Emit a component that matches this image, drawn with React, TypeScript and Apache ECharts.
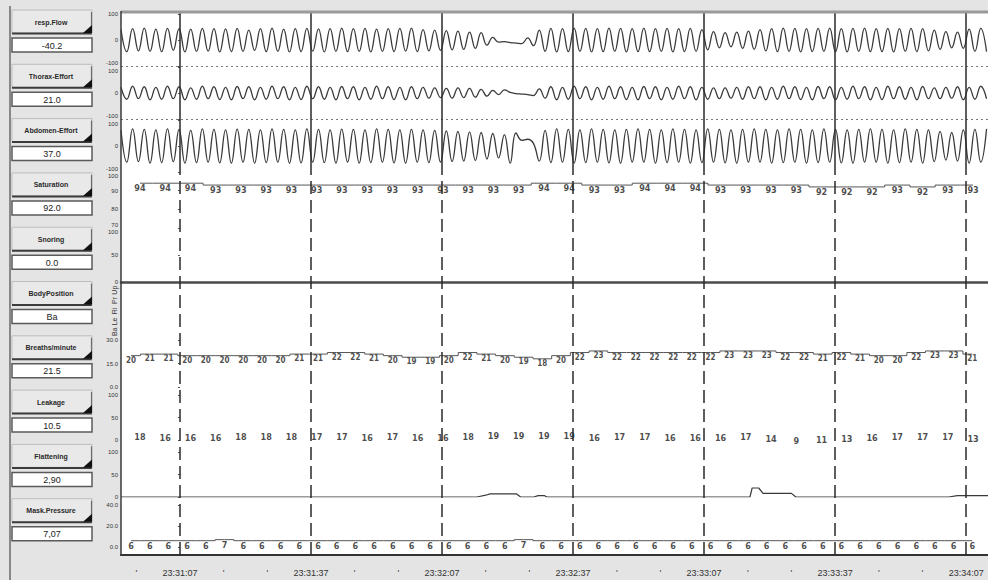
import React, { useEffect, useRef } from "react";
import * as echarts from "echarts";

// ---------- time axis (seconds relative to 23:31:07) ----------
const BASE_SEC = 23 * 3600 + 31 * 60 + 7;
const X_MIN = -13.5;
const X_MAX = 185;
const timeLines = [0, 30, 60, 90, 120, 150, 180];
const timeTicks = [-10, 0, 10, 20, 30, 40, 50, 60, 70, 80, 90, 100, 110, 120, 130, 140, 150, 160, 170, 180];

// ---------- waveforms (alternating extremes, one per half breath) ----------
const waveStart = -13.5;
const waveStep = 1.33;
const flowValues = [
  40, -45, 44, -42, 46, -44, 42, -45, 45, -40,
  44, -46, 42, -44, 45, -43, 44, -46, 43, -45,
  45, -44, 38, -40, 44, -45, 46, -44, 42, -46,
  44, -45, 45, -43, 43, -46, 44, -44, 46, -45,
  44, -44, 45, -46, 42, -44, 44, -45, 45, -43,
  46, -45, 40, -42, 38, -40, 36, -38, 34, -36,
  30, -32, 28, -20, 10, -8, -6, -10, -12, -14,
  8, -22, 38, -44, 45, -46, 44, -45, 46, -44,
  45, -46, 44, -45, 46, -44, 45, -46, 44, -45,
  46, -45, 44, -44, 45, -46, 44, -45, 45, -44,
  40, -38, 32, -30, 28, -26, 30, -32, 34, -36,
  40, -42, 44, -45, 46, -44, 45, -46, 44, -45,
  45, -44, 46, -45, 44, -46, 45, -44, 46, -45,
  44, -45, 45, -46, 44, -44, 45, -45, 44, -42,
  38, -36, 32, -30, 30, -32, 42, -44, 45, -45,
];
const thoraxValues = [
  22, -24, 26, -22, 24, -26, 22, -24, 26, -22,
  24, -26, 20, -24, 26, -22, 24, -25, 22, -26,
  25, -22, 24, -26, 22, -24, 26, -22, 24, -26,
  22, -25, 26, -22, 24, -24, 22, -26, 25, -22,
  24, -26, 22, -24, 26, -22, 24, -25, 22, -26,
  24, -22, 22, -20, 20, -18, 18, -20, 20, -18,
  18, -16, 14, -12, 10, -6, 12, 2, -2, -4,
  -6, -10, 16, -20, 24, -26, 22, -24, 26, -22,
  24, -26, 22, -24, 26, -22, 24, -25, 22, -26,
  25, -22, 24, -26, 22, -24, 26, -22, 24, -26,
  22, -24, 20, -22, 20, -20, 22, -24, 24, -22,
  24, -26, 22, -24, 26, -22, 24, -25, 22, -26,
  25, -22, 24, -26, 22, -24, 26, -22, 24, -26,
  22, -25, 26, -22, 24, -24, 22, -26, 25, -22,
  20, -22, 22, -20, 24, -26, 22, -24, 26, -22,
];
const abdomenValues = [
  60, -62, 66, -60, 64, -66, 62, -64, 66, -60,
  64, -66, 60, -64, 66, -62, 64, -65, 62, -66,
  65, -62, 64, -66, 62, -64, 66, -62, 64, -66,
  62, -65, 66, -62, 64, -64, 62, -66, 65, -62,
  64, -66, 62, -64, 66, -62, 64, -65, 62, -66,
  64, -62, 62, -64, 60, -62, 58, -60, 56, -58,
  54, -56, 52, -50, 48, -46, 44, -66, 50, 22,
  26, 10, -58, 60, -64, 66, -62, 64, -66, 62,
  -64, 66, -62, 64, -65, 62, -66, 64, -62, 66,
  -62, 64, -66, 62, -64, 66, -62, 64, -66, 62,
  -64, 66, -62, 64, -65, 62, -66, 64, -62, 66,
  -62, 64, -66, 62, -64, 66, -62, 64, -66, 62,
  -64, 66, -62, 64, -65, 62, -66, 64, -62, 66,
  -62, 64, -66, 62, -64, 66, -62, 64, -66, 62,
  -60, 56, -54, 52, -58, 62, -66, 64, -62, 66,
];

// ---------- epoch values ----------
const satStart = -9.16;
const satStep = 5.78;
const saturationValues = [94, 94, 94, 93, 93, 93, 93, 93, 93, 93, 93, 93, 93, 93, 93, 93, 94, 94, 93, 93, 94, 94, 94, 93, 93, 93, 93, 92, 92, 92, 93, 92, 93, 93];
const leakageValues = [18, 16, 16, 16, 18, 18, 18, 17, 17, 16, 17, 16, 16, 18, 19, 19, 19, 19, 16, 17, 17, 16, 16, 16, 17, 14, 9, 11, 13, 16, 17, 17, 17, 13];

const rateStart = -11.2;
const rateStep = 4.28;
const breathsValues = [
  20, 21, 21,
  20, 20, 20, 20, 20, 20, 21,
  21, 22, 22, 21, 20, 19, 19,
  20, 22, 21, 20, 19, 18, 20,
  22, 23, 22, 22, 22, 22, 22,
  22, 23, 23, 23, 22, 22, 21,
  22, 21, 20, 20, 22, 23, 23,
  21,
];
const maskValues = [
  6, 6, 6,
  6, 6, 7, 6, 6, 6, 6,
  6, 6, 6, 6, 6, 6, 6,
  6, 6, 6, 6, 7, 6, 6,
  6, 6, 6, 6, 6, 6, 6,
  6, 6, 6, 6, 6, 6, 6,
  6, 6, 6, 6, 6, 6, 6,
  6,
];

const flatTimes = [-13.5, 68, 70, 71, 77, 78, 81, 82, 83.5, 84, 129.5, 130.5, 131, 132.5, 133.5, 140, 141, 176, 178, 185];
const flatValues = [0, 0, 4, 7, 7, 0, 0, 3, 3, 0, 0, 0, 20, 20, 8, 8, 0, 0, 3, 3];

const bodyPositions = ["Ba", "Le", "Ri", "Pr", "Up"];

const panelLabels = ["resp.Flow", "Thorax-Effort", "Abdomen-Effort", "Saturation", "Snoring", "BodyPosition", "Breaths/minute", "Leakage", "Flattening", "Mask.Pressure"];
const panelValues = ["-40.2", "21.0", "37.0", "92.0", "0.0", "Ba", "21.5", "10.5", "2,90", "7,07"];

// ---------- helpers ----------
const pad = (n: number) => (n < 10 ? "0" + n : "" + n);
const fmtTime = (v: number) => {
  const s = BASE_SEC + Math.round(v);
  return pad(Math.floor(s / 3600) % 24) + ":" + pad(Math.floor(s / 60) % 60) + ":" + pad(s % 60);
};
const wave = (vals: number[]) => vals.map((v, k) => [waveStart + k * waveStep, v]);
const epochs = (vals: number[], start: number, step: number) => vals.map((v, i) => [start + i * step, v]);

const FONT = "'Liberation Sans', Arial, sans-serif";
const NUMFONT = "'DejaVu Sans Condensed', 'Liberation Sans Narrow', 'Liberation Sans', sans-serif";
const INK = "#1c1c1c";

// rows: grid layout; shiftMin/shiftMax nudge boundary labels apart
const rows = [
  { top: 14, h: 52, min: -100, max: 100, interval: 100, shiftMin: true, shiftMax: false },  // 0 flow
  { top: 67, h: 52, min: -100, max: 100, interval: 100, shiftMin: true, shiftMax: true },   // 1 thorax
  { top: 120, h: 52, min: -100, max: 100, interval: 100, shiftMin: true, shiftMax: true },  // 2 abdomen
  { top: 172, h: 56, min: 70, max: 100, interval: 10, shiftMin: true, shiftMax: true },     // 3 saturation
  { top: 228, h: 54, min: 0, max: 100, interval: 50, shiftMin: false, shiftMax: true },     // 4 snoring
  { top: 285, h: 52, min: 0, max: 0, interval: 0, shiftMin: false, shiftMax: false },       // 5 body position
  { top: 340, h: 47, min: 0, max: 30, interval: 15, shiftMin: false, shiftMax: false },     // 6 breaths
  { top: 395, h: 45, min: 0, max: 100, interval: 50, shiftMin: false, shiftMax: false },    // 7 leakage
  { top: 452, h: 45, min: 0, max: 100, interval: 50, shiftMin: false, shiftMax: false },    // 8 flattening
  { top: 505, h: 42, min: 0, max: 40, interval: 20, shiftMin: false, shiftMax: false },     // 9 mask pressure
  { top: 12, h: 160, min: 0, max: 1, interval: 1, shiftMin: false, shiftMax: false },       // 10 overlay solid
  { top: 172, h: 383, min: 0, max: 1, interval: 1, shiftMin: false, shiftMax: false },      // 11 overlay dashed
];

function buildOption() {
  const grid = rows.map((r) => ({ left: 121, right: 0, top: r.top, height: r.h, containLabel: false }));

  const xAxis = rows.map((r, i) => {
    const base: any = {
      type: "value",
      gridIndex: i,
      min: X_MIN,
      max: X_MAX,
      show: false,
      splitLine: { show: false },
    };
    if (i === 4) {
      base.show = true;
      base.axisLine = { show: true, onZero: false, lineStyle: { color: "#4a4a4a", width: 2.5 } };
      base.axisTick = { show: false };
      base.axisLabel = { show: false };
    }
    if (i === 9) {
      base.show = true;
      base.offset = 8;
      base.axisLine = { show: true, onZero: false, lineStyle: { color: "#333", width: 2 } };
      base.axisTick = { show: false };
      base.axisLabel = {
        show: true,
        customValues: timeTicks,
        formatter: (v: number) => (Math.round(v) % 30 === 0 ? fmtTime(v) : "'"),
        fontSize: 9,
        fontFamily: FONT,
        color: "#333",
        margin: 13,
        hideOverlap: false,
      };
    }
    return base;
  });

  const yAxis = rows.map((r, i) => {
    if (i >= 10) return { type: "value", gridIndex: i, min: 0, max: 1, show: false };
    if (i === 5) {
      return {
        type: "category",
        gridIndex: i,
        data: bodyPositions,
        axisLine: { show: false },
        axisTick: { show: false },
        splitLine: { show: false },
        axisLabel: { fontSize: 7, rotate: 90, color: "#333", margin: 3, fontFamily: FONT, interval: 0 },
      };
    }
    const decimals = i === 6 || i === 9;
    return {
      type: "value",
      gridIndex: i,
      min: r.min,
      max: r.max,
      interval: r.interval,
      axisLine: { show: false },
      axisTick: { show: true, length: 2, lineStyle: { color: "#555" } },
      splitLine: { show: false },
      axisLabel: {
        fontSize: 6,
        lineHeight: 7,
        color: "#333",
        margin: 3,
        fontFamily: FONT,
        formatter: (v: number) => {
          const s = decimals ? v.toFixed(1) : String(v);
          if (v === r.max && r.shiftMax) return "\n" + s;
          if (v === r.min && r.shiftMin) return s + "\n";
          return s;
        },
      },
    };
  });

  const waveLine = (idx: number, vals: number[], dotted: boolean) => ({
    type: "line",
    xAxisIndex: idx,
    yAxisIndex: idx,
    data: wave(vals),
    smooth: 0.45,
    symbol: "none",
    lineStyle: { color: "#3a3a3a", width: 1.3 },
    silent: true,
    markLine: dotted
      ? {
          silent: true,
          symbol: ["none", "none"],
          label: { show: false },
          lineStyle: { color: "#7a7a7a", type: [2, 3], width: 1 },
          data: [{ yAxis: -100 }],
        }
      : undefined,
  });

  const stepLine = (idx: number, data: number[][]) => ({
    type: "line",
    xAxisIndex: idx,
    yAxisIndex: idx,
    data,
    step: "middle",
    symbol: "none",
    lineStyle: { color: "#555", width: 1 },
    silent: true,
  });

  const numLabels = (idx: number, data: number[][], size: number) => ({
    type: "scatter",
    xAxisIndex: idx,
    yAxisIndex: idx,
    data,
    symbolSize: 1,
    itemStyle: { color: "rgba(0,0,0,0)" },
    silent: true,
    label: {
      show: true,
      position: "bottom",
      distance: 0,
      formatter: (p: any) => String(p.value[1]),
      fontSize: size,
      fontWeight: "bold",
      fontFamily: NUMFONT,
      color: INK,
    },
  });

  const satData = epochs(saturationValues, satStart, satStep);
  const leakData = epochs(leakageValues, satStart, satStep);
  const brData = epochs(breathsValues, rateStart, rateStep);
  const maskData = epochs(maskValues, rateStart, rateStep);
  const flatData = flatTimes.map((t, i) => [t, flatValues[i]]);

  const vLines = (idx: number, dashed: boolean) => ({
    type: "line",
    xAxisIndex: idx,
    yAxisIndex: idx,
    data: [[X_MIN, 0]],
    symbol: "none",
    lineStyle: { opacity: 0 },
    silent: true,
    z: 5,
    markLine: {
      silent: true,
      symbol: ["none", "none"],
      label: { show: false },
      lineStyle: { color: "#2a2a2a", width: 1.5, type: dashed ? [13, 6] : "solid" },
      data: timeLines.map((t) => ({ xAxis: t })),
    },
  });

  const series: any[] = [
    waveLine(0, flowValues, true),
    waveLine(1, thoraxValues, true),
    waveLine(2, abdomenValues, false),
    stepLine(3, satData),
    numLabels(3, satData, 9),
    stepLine(6, brData),
    numLabels(6, brData, 8),
    numLabels(7, leakData, 9),
    {
      type: "line",
      xAxisIndex: 8,
      yAxisIndex: 8,
      data: flatData,
      symbol: "none",
      lineStyle: { color: "#3a3a3a", width: 1.2 },
      silent: true,
    },
    stepLine(9, maskData),
    numLabels(9, maskData, 9),
    vLines(10, false),
    vLines(11, true),
  ];

  // ---------- graphic: backgrounds, borders, left panel ----------
  const graphic: any[] = [
    { type: "rect", z: -10, silent: true, shape: { x: 121, y: 12, width: 867, height: 543 }, style: { fill: "#ffffff" } },
    { type: "line", z: 10, silent: true, shape: { x1: 121, y1: 12, x2: 988, y2: 12 }, style: { stroke: "#9a9a9a", lineWidth: 3 } },
    { type: "line", z: 10, silent: true, shape: { x1: 121, y1: 11, x2: 121, y2: 556 }, style: { stroke: "#3a3a3a", lineWidth: 1.5 } },
    { type: "line", z: 10, silent: true, shape: { x1: 10, y1: 6, x2: 10, y2: 580 }, style: { stroke: "#6a6a6a", lineWidth: 1.5 } },
  ];
  panelLabels.forEach((lab, i) => {
    const top = 10 + 54.3 * i;
    graphic.push(
      { type: "rect", silent: true, shape: { x: 12, y: top, width: 80, height: 23 }, style: { fill: "#e9e9e9", stroke: "#bdbdbd", lineWidth: 1 } },
      { type: "line", silent: true, shape: { x1: 12, y1: top + 23.5, x2: 92, y2: top + 23.5 }, style: { stroke: "#3c3c3c", lineWidth: 2 } },
      { type: "line", silent: true, shape: { x1: 91.5, y1: top + 2, x2: 91.5, y2: top + 24 }, style: { stroke: "#6c6c6c", lineWidth: 1.2 } },
      { type: "polygon", silent: true, shape: { points: [[83, top + 23], [92, top + 15], [92, top + 23]] }, style: { fill: "#111" } },
      { type: "text", silent: true, x: 51, y: top + 12, style: { text: lab, font: "bold 7px " + FONT, fill: "#2a2a2a", textAlign: "center", textVerticalAlign: "middle" } },
      { type: "rect", silent: true, shape: { x: 12, y: top + 28, width: 80, height: 14 }, style: { fill: "#ffffff", stroke: "#5a5a5a", lineWidth: 1.5 } },
      { type: "text", silent: true, x: 52, y: top + 35.5, style: { text: panelValues[i], font: "9px " + FONT, fill: "#222", textAlign: "center", textVerticalAlign: "middle" } }
    );
  });

  return {
    animation: false,
    backgroundColor: "#e4e4e4",
    grid,
    xAxis,
    yAxis,
    series,
    graphic: { elements: graphic },
  };
}

export default function App() {
  const ref = useRef<HTMLDivElement>(null);
  useEffect(() => {
    if (!ref.current) return;
    const chart = echarts.init(ref.current, undefined, { renderer: "svg" });
    chart.setOption(buildOption() as any);
    return () => chart.dispose();
  }, []);
  return <div ref={ref} style={{ position: "absolute", left: 0, top: 0, width: 988, height: 580 }} />;
}
